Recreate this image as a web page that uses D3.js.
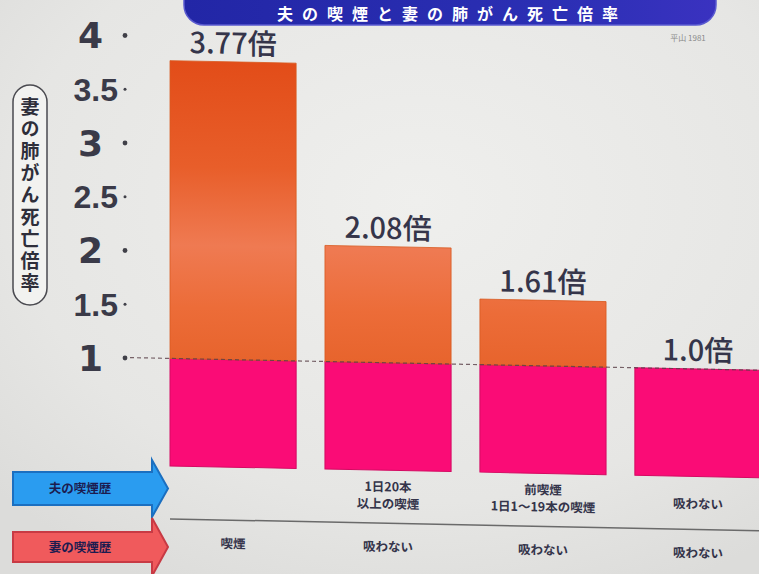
<!DOCTYPE html>
<html><head><meta charset="utf-8">
<script src="https://cdn.jsdelivr.net/npm/d3@7/dist/d3.min.js"></script>
<style>
html,body{margin:0;padding:0;background:#e4e4e2;}
svg{display:block;}
</style></head>
<body>
<svg id="chart" width="759" height="574"></svg>
<script>
// ---- data ----
const categories = ["A", "B", "C", "D"];
const values = [3.77, 2.08, 1.61, 1.0];
const valueLabels = ["3.77倍", "2.08倍", "1.61倍", "1.0倍"];
const husbandLabels = [[], ["1日20本", "以上の喫煙"], ["前喫煙", "1日1～19本の喫煙"], ["吸わない"]];
const wifeLabels = ["喫煙", "吸わない", "吸わない", "吸わない"];
const yTicks = [1, 1.5, 2, 2.5, 3, 3.5, 4];
const yTickLabels = ["1", "1.5", "2", "2.5", "3", "3.5", "4"];
const baseValue = 1;
const title = "夫の喫煙と妻の肺がん死亡倍率";
const yTitle = "妻の肺がん死亡倍率";
const rowTitles = ["夫の喫煙歴", "妻の喫煙歴"];
const sourceNote = "平山 1981";

const svg = d3.select("#chart");
const W = 759, H = 574;
const jp = "'Noto Sans CJK JP', 'Noto Sans', sans-serif";

const defs = svg.append("defs");
const bg = defs.append("radialGradient").attr("id", "bg").attr("cx", "0.55").attr("cy", "0.35").attr("r", "0.75");
bg.append("stop").attr("offset", "0").attr("stop-color", "#efefed");
bg.append("stop").attr("offset", "0.7").attr("stop-color", "#e6e6e4");
bg.append("stop").attr("offset", "1").attr("stop-color", "#dcdcda");
svg.append("rect").attr("width", W).attr("height", H).attr("fill", "url(#bg)");

const og = defs.append("linearGradient").attr("id", "orange").attr("gradientUnits", "userSpaceOnUse")
  .attr("x1", 0).attr("y1", 55).attr("x2", 0).attr("y2", 370);
[[0, "#e24c18"], [0.35, "#e85e2a"], [0.6, "#ef7a52"], [0.8, "#ec6c38"], [1, "#e6622a"]]
  .forEach(([o, c]) => og.append("stop").attr("offset", o).attr("stop-color", c));

const tg = defs.append("linearGradient").attr("id", "titleg").attr("x1", 0).attr("y1", 0).attr("x2", 1).attr("y2", 0);
tg.append("stop").attr("offset", 0).attr("stop-color", "#2226a6");
tg.append("stop").attr("offset", 0.7).attr("stop-color", "#2b2fb4");
tg.append("stop").attr("offset", 1).attr("stop-color", "#3a32c0");

// ---- scales ----
const x = d3.scaleBand().domain(categories).range([170, 761]).paddingInner(0.186).paddingOuter(0);
const y = d3.scaleLinear().domain([0, 4]).range([465, 35]);

// title banner (top edge off-canvas)
svg.append("rect").attr("x", 184).attr("y", -40).attr("width", 532).attr("height", 65).attr("rx", 20)
  .attr("fill", "url(#titleg)").attr("stroke", "#5a5ad0").attr("stroke-width", 1.5);
svg.append("text").attr("x", 452).attr("y", 20).attr("text-anchor", "middle")
  .attr("font-family", jp).attr("font-weight", 700).attr("font-size", 16).attr("fill", "#ffffff")
  .attr("letter-spacing", 9).text(title);
svg.append("text").attr("x", 688).attr("y", 41).attr("text-anchor", "middle")
  .attr("font-family", jp).attr("font-size", 8).attr("fill", "#8a8a8a").text(sourceNote);

// y-axis title box
svg.append("rect").attr("x", 13).attr("y", 85).attr("width", 34).attr("height", 220).attr("rx", 17)
  .attr("fill", "#f2f2f0").attr("stroke", "#4a4a50").attr("stroke-width", 1.5);
svg.append("text").attr("x", 30).attr("y", 97)
  .attr("writing-mode", "vertical-rl").attr("glyph-orientation-vertical", 0)
  .attr("font-family", jp).attr("font-weight", 700).attr("font-size", 19).attr("fill", "#2e2e3a")
  .attr("letter-spacing", 3).text(yTitle);

// y axis with d3.axisLeft
const yAxis = d3.axisLeft(y).tickValues(yTicks).tickSize(0).tickPadding(0)
  .tickFormat((d, i) => yTickLabels[i]);
const ax = svg.append("g").attr("transform", "translate(125,0)").call(yAxis);
ax.select(".domain").remove();
ax.selectAll(".tick text")
  .attr("x", d => Number.isInteger(d) ? -22 : -7)
  .attr("dy", "0.36em")
  .attr("font-family", d => Number.isInteger(d) ? "'DejaVu Sans', sans-serif" : "'Liberation Sans', 'Arial', sans-serif")
  .attr("font-weight", 700)
  .attr("font-size", d => Number.isInteger(d) ? 36 : 32)
  .attr("fill", "#3a3a48");
ax.selectAll(".tick").append("circle").attr("r", d => Number.isInteger(d) ? 2.4 : 1.5).attr("fill", "#404048");

// plot group with slight perspective skew
const plot = svg.append("g").attr("transform", "translate(125,0) skewY(1.15) translate(-125,0)");

// bars
const bars = plot.selectAll("g.bar").data(values).join("g").attr("class", "bar");
bars.append("rect")
  .attr("x", (d, i) => x(categories[i])).attr("width", x.bandwidth())
  .attr("y", d => y(Math.min(d, baseValue))).attr("height", d => y(0) - y(Math.min(d, baseValue)))
  .attr("fill", "#fa0c76").attr("stroke", "#d40a62").attr("stroke-width", 1);
bars.filter(d => d > baseValue).append("rect")
  .attr("x", (d) => x(categories[values.indexOf(d)])).attr("width", x.bandwidth())
  .attr("y", d => y(d)).attr("height", d => y(baseValue) - y(d))
  .attr("fill", "url(#orange)").attr("stroke", "#d85a20").attr("stroke-width", 0.8);

// dashed reference line at 1
plot.append("line").attr("x1", 130).attr("x2", 761).attr("y1", y(baseValue)).attr("y2", y(baseValue))
  .attr("stroke", "#5a4048").attr("stroke-width", 1.2).attr("stroke-dasharray", "4,3").attr("opacity", 0.8);

// value labels
plot.selectAll("text.val").data(values).join("text").attr("class", "val")
  .attr("x", (d, i) => x(categories[i]) + x.bandwidth() / 2)
  .attr("y", d => y(d) - 8)
  .attr("text-anchor", "middle")
  .attr("font-family", jp).attr("font-weight", 500).attr("font-size", 29).attr("fill", "#35354a")
  .text((d, i) => valueLabels[i]);

// separator line
plot.append("line").attr("x1", 170).attr("x2", 761).attr("y1", 518).attr("y2", 518)
  .attr("stroke", "#6a6a6a").attr("stroke-width", 1.5);

// husband labels
husbandLabels.forEach((lines, i) => {
  const cx = x(categories[i]) + x.bandwidth() / 2;
  const t = plot.append("text").attr("text-anchor", "middle")
    .attr("font-family", jp).attr("font-weight", 700).attr("font-size", 12.5).attr("fill", "#34344a");
  const startY = lines.length === 1 ? 497 : 486;
  lines.forEach((l, j) => t.append("tspan").attr("x", cx).attr("y", startY + j * 17).text(l));
});
// wife labels
plot.selectAll("text.wife").data(wifeLabels).join("text").attr("class", "wife")
  .attr("x", (d, i) => x(categories[i]) + x.bandwidth() / 2).attr("y", 546)
  .attr("text-anchor", "middle")
  .attr("font-family", jp).attr("font-weight", 700).attr("font-size", 12.5).attr("fill", "#34344a")
  .text(d => d);

// row arrows
const arrowPath = (x0, x1, tip, yTop, yBot, hTop, hBot) =>
  `M${x0},${yTop} L${x1},${yTop} L${x1},${hTop} L${tip},${(yTop + yBot) / 2} L${x1},${hBot} L${x1},${yBot} L${x0},${yBot} Z`;
const arrows = [
  {fill: "#2a9cf0", stroke: "#1b6fc0", yTop: 472, yBot: 505, hTop: 460, hBot: 517, text: rowTitles[0]},
  {fill: "#f05a5c", stroke: "#c83a44", yTop: 532, yBot: 562, hTop: 518, hBot: 576, text: rowTitles[1]}
];
arrows.forEach(a => {
  svg.append("path").attr("d", arrowPath(13, 152, 168, a.yTop, a.yBot, a.hTop, a.hBot))
    .attr("fill", a.fill).attr("stroke", a.stroke).attr("stroke-width", 2);
  svg.append("text").attr("x", 80).attr("y", (a.yTop + a.yBot) / 2 + 4.5).attr("text-anchor", "middle")
    .attr("font-family", jp).attr("font-weight", 700).attr("font-size", 12.5).attr("fill", "#1c1c50")
    .text(a.text);
});
</script>
</body></html>
